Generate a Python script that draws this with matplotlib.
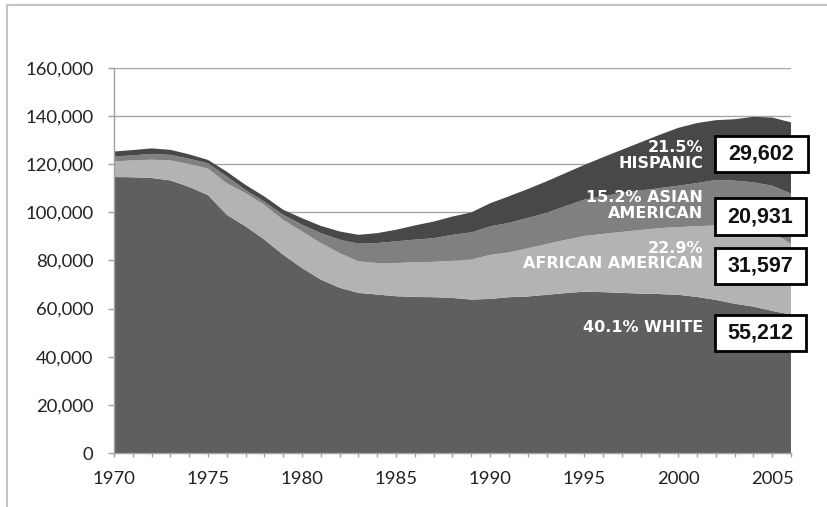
import matplotlib
matplotlib.use("Agg")
import matplotlib.pyplot as plt
import matplotlib.patches as mpatches
import numpy as np
from matplotlib.ticker import FuncFormatter, MultipleLocator

years = list(range(1970, 2007))

white = [114.6, 114.5, 114.2, 113.2, 110.5, 107.1, 98.9, 94.1, 88.6, 82.3,
         76.8, 72.0, 68.6, 66.5, 65.8, 65.1, 64.8, 64.7, 64.4, 63.7,
         64.0, 64.7, 65.0, 65.7, 66.4, 67.0, 66.8, 66.5, 66.2, 66.0,
         65.7, 64.8, 63.6, 62.0, 60.8, 59.0, 57.5]
african_american = [6.5, 7.0, 7.6, 8.3, 9.5, 11.0, 13.1, 13.8, 14.4, 14.5,
                    15.2, 15.2, 14.4, 13.1, 13.1, 13.8, 14.4, 14.7, 15.5, 16.6,
                    18.3, 18.6, 20.0, 21.1, 22.1, 23.1, 24.2, 25.3, 26.4, 27.4,
                    28.1, 29.4, 30.9, 32.3, 33.0, 32.7, 29.3]
asian_american = [2.0, 2.1, 2.4, 2.3, 2.2, 2.2, 2.8, 1.3, 1.4, 2.1,
                  2.8, 4.1, 5.6, 7.3, 8.3, 9.0, 9.4, 9.8, 10.7, 11.3,
                  11.8, 12.3, 12.6, 12.9, 14.0, 15.1, 15.6, 16.2, 16.4, 16.6,
                  17.2, 17.9, 18.9, 18.8, 18.6, 19.3, 20.9]
hispanic = [2.1, 2.2, 2.3, 2.1, 1.8, 1.4, 2.0, 2.1, 2.1, 2.1,
            2.7, 3.0, 3.4, 3.7, 4.1, 4.8, 5.9, 6.9, 7.6, 8.3,
            9.6, 11.0, 12.0, 13.1, 13.7, 14.4, 16.2, 17.9, 20.0, 22.1,
            24.0, 24.9, 24.8, 25.5, 27.2, 28.3, 29.6]

series_labels = ["40.1% WHITE", "22.9%\nAFRICAN AMERICAN",
                 "15.2% ASIAN\nAMERICAN", "21.5%\nHISPANIC"]
box_values = ["55,212", "31,597", "20,931", "29,602"]
colors = ["#5f5f5f", "#b3b3b3", "#808080", "#484848"]

W, H = 827, 507
fig = plt.figure(figsize=(W / 100, H / 100), dpi=100)
fig.patch.set_facecolor("white")

def fx(x):
    return x / W

def fy(y):
    return 1 - y / H

ax = fig.add_axes([fx(114), fy(453), fx(791) - fx(114), fy(67.7) - fy(453)])
scale = 1000
ax.stackplot(years,
             np.array(white) * scale,
             np.array(african_american) * scale,
             np.array(asian_american) * scale,
             np.array(hispanic) * scale,
             colors=colors, linewidth=0, zorder=2)

ax.set_xlim(1970, 2006)
ax.set_ylim(0, 160000)
ax.yaxis.set_major_locator(MultipleLocator(20000))
ax.yaxis.set_major_formatter(FuncFormatter(lambda v, p: f"{int(v):,}"))
ax.set_xticks(list(range(1970, 2007)), minor=False)
ax.set_xticklabels([str(y) if y % 5 == 0 else "" for y in range(1970, 2007)])
ax.grid(axis="y", color="#a6a6a6", linewidth=1.0, zorder=0)
ax.set_axisbelow(True)
for s in ["top", "right"]:
    ax.spines[s].set_visible(False)
for s in ["left", "bottom"]:
    ax.spines[s].set_color("#a0a0a0")
    ax.spines[s].set_linewidth(1.0)
ax.tick_params(axis="y", direction="out", length=4.3, width=1.0, color="#a0a0a0",
               pad=10.5, labelsize=13.3, labelcolor="#222222")
ax.tick_params(axis="x", direction="out", length=3.0, width=1.0, color="#a0a0a0",
               pad=10, labelsize=13.3, labelcolor="#222222")
for lab in ax.get_xticklabels() + ax.get_yticklabels():
    lab.set_family("Lato")

# frame lines of the chart area
fig.add_artist(plt.Line2D([fx(7), fx(7)], [fy(5), 0], color="#c4c4c4", lw=1.5,
                          transform=fig.transFigure))
fig.add_artist(plt.Line2D([fx(7), 1], [fy(5), fy(5)], color="#c4c4c4", lw=1.5,
                          transform=fig.transFigure))

# series labels (white, bold)
label_pos = [328, 256, 205.5, 155.5]
for txt, y in zip(series_labels, label_pos):
    fig.text(fx(703), fy(y), txt, ha="right", va="center", color="white",
             fontsize=11.5, fontweight="bold", family="DejaVu Sans",
             linespacing=1.0)

# value boxes
boxes = [(715, 315, 806, 351), (715, 248, 806, 284), (715, 198, 806, 235),
         (715, 136, 808, 172)]
for val, (x0, y0, x1, y1) in zip(box_values, boxes):
    rect = mpatches.Rectangle((fx(x0), fy(y1)), fx(x1) - fx(x0), fy(y0) - fy(y1),
                              transform=fig.transFigure, facecolor="white",
                              edgecolor="black", linewidth=2.0, zorder=5)
    fig.add_artist(rect)
    fig.text(fx((x0 + x1) / 2), fy((y0 + y1) / 2), val, ha="center", va="center",
             fontsize=15.5, family="Liberation Sans", fontweight="bold",
             color="#111111", zorder=6)

fig.savefig("out.png", dpi=100)
